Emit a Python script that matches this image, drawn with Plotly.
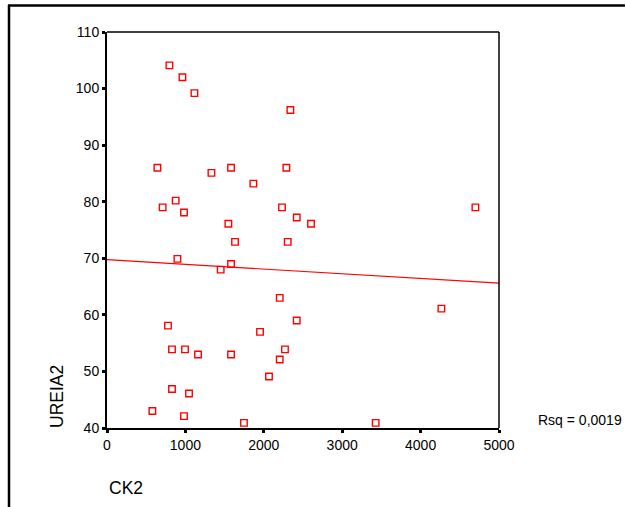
import plotly.graph_objects as go

ck2 = [796, 962, 1115, 2339, 643, 1332, 1582, 2288, 1867, 876, 710, 982, 2232, 2420,
       2602, 1548, 1633, 2305,
       898, 1582, 1450, 2203, 2420, 778, 1952, 829, 995, 1161, 1582, 2270, 2203, 2066,
       829, 1046, 579, 982, 1747,
       4699, 4265, 3427]
ureia2 = [104.1, 102.0, 99.2, 96.2, 86.0, 85.1, 86.0, 86.0, 83.2, 80.2, 79.0, 78.1, 79.0, 77.2,
          76.1, 76.1, 72.9, 72.9,
          69.9, 69.0, 68.0, 63.0, 59.0, 58.1, 57.0, 53.9, 53.9, 53.0, 53.0, 53.9, 52.1, 49.1,
          46.9, 46.1, 43.0, 42.1, 40.9,
          79.0, 61.1, 40.9]
fit_x = [0, 5000]
fit_y = [69.75, 65.6]
x_ticks = [0, 1000, 2000, 3000, 4000, 5000]
y_ticks = [40, 50, 60, 70, 80, 90, 100, 110]
rsq_label = "Rsq = 0,0019"

W, H = 626, 507
L, R, T, B = 107, 127, 32, 79
pw, ph = W - L - R, H - T - B

font = "Liberation Sans, Arial, sans-serif"
ink = "#000000"

fig = go.Figure()
fig.add_trace(go.Scatter(x=fit_x, y=fit_y, mode="lines",
                         line=dict(color="#ff0000", width=1.2), hoverinfo="skip"))
fig.add_trace(go.Scatter(x=ck2, y=ureia2, mode="markers",
                         marker=dict(symbol="square-open", size=6.5,
                                     line=dict(color="#ff0000", width=1.4), color="#ff0000")))

fig.update_layout(
    width=W, height=H, showlegend=False,
    margin=dict(l=L, r=R, t=T, b=B),
    paper_bgcolor="white", plot_bgcolor="white",
    font=dict(family=font, size=14, color=ink),
    xaxis=dict(range=[0, 5000], tickvals=x_ticks, showgrid=False, zeroline=False,
               showline=True, linecolor="black", linewidth=2,
               ticks="outside", ticklen=3, tickwidth=2.5, tickcolor="black"),
    yaxis=dict(range=[40, 110], tickvals=y_ticks, showgrid=False, zeroline=False,
               showline=True, linecolor="black", linewidth=2,
               ticks="outside", ticklen=3, tickwidth=2.5, tickcolor="black"),
)

def px2paper_x(p):
    return (p - L) / pw

def px2paper_y(p):
    return (H - B - p) / ph

shapes = [
    dict(type="line", xref="paper", yref="paper", x0=0, x1=1, y0=1, y1=1,
         line=dict(color="black", width=1.5)),
    dict(type="line", xref="paper", yref="paper", x0=1, x1=1, y0=0, y1=1,
         line=dict(color="black", width=1.5)),
    dict(type="line", xref="paper", yref="paper",
         x0=px2paper_x(9), x1=px2paper_x(9), y0=px2paper_y(5), y1=px2paper_y(510),
         line=dict(color="black", width=2.5)),
    dict(type="line", xref="paper", yref="paper",
         x0=px2paper_x(8), x1=px2paper_x(625), y0=px2paper_y(5.5), y1=px2paper_y(5.5),
         line=dict(color="black", width=2.5)),
]
fig.update_layout(shapes=shapes)

fig.add_annotation(text="UREIA2", xref="paper", yref="paper",
                   x=px2paper_x(57), y=px2paper_y(397), textangle=-90,
                   showarrow=False, font=dict(size=17.5, family=font, color=ink),
                   xanchor="center", yanchor="middle")
fig.add_annotation(text="CK2", xref="paper", yref="paper",
                   x=px2paper_x(107), y=px2paper_y(488),
                   showarrow=False, font=dict(size=17.5, family=font, color=ink),
                   xanchor="left", yanchor="middle")
fig.add_annotation(text=rsq_label, xref="paper", yref="paper",
                   x=px2paper_x(536), y=px2paper_y(420),
                   showarrow=False, font=dict(size=14, family=font, color=ink),
                   xanchor="left", yanchor="middle")

fig.write_html("out.html", config={"displayModeBar": False},
               post_script="document.body.style.margin='0';document.body.style.overflow='hidden';")
